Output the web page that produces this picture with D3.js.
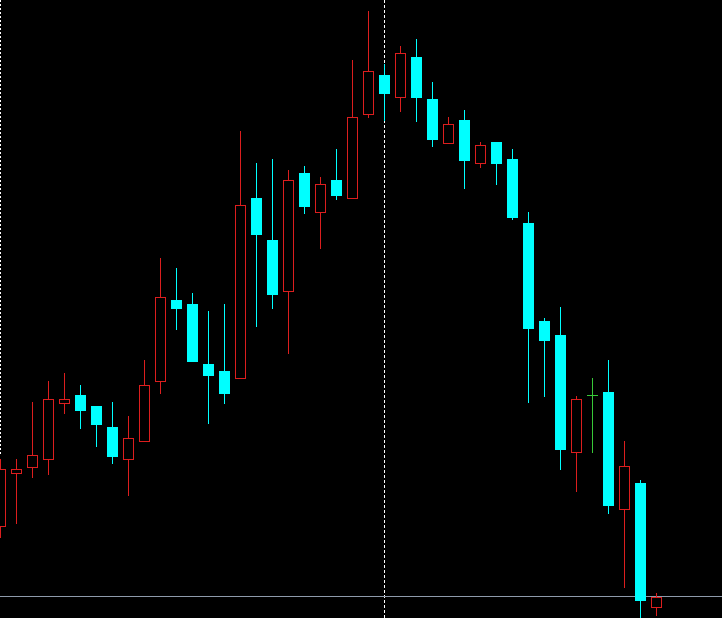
<!DOCTYPE html>
<html>
<head>
<meta charset="utf-8">
<script src="https://cdn.jsdelivr.net/npm/d3@7"></script>
<style>
  html, body { margin: 0; padding: 0; background: #000; overflow: hidden; }
  svg { display: block; }
</style>
</head>
<body>
<svg id="chart" width="722" height="618"></svg>
<script>
// Bar index (categories)
const bars = d3.range(42);
// OHLC series
const openP  = [1.0724,1.0777,1.0783,1.0791,1.0847,1.0855,1.0844,1.0823,1.0791,1.0809,1.0869,1.0950,1.0946,1.0886,1.0879,1.0872,1.1052,1.1010,1.0959,1.1077,1.1038,1.1070,1.1052,1.1136,1.1175,1.1153,1.1193,1.1151,1.1107,1.1130,1.1087,1.1108,1.1091,1.1027,1.0929,1.0915,1.0798,1.0855,1.0858,1.0741,1.0767,1.0643];
const highP  = [1.0791,1.0791,1.0848,1.0869,1.0877,1.0865,1.0844,1.0848,1.0834,1.0890,1.0992,1.0982,1.0957,1.0939,1.0946,1.1119,1.1087,1.1091,1.1080,1.1084,1.1073,1.1101,1.1190,1.1239,1.1186,1.1204,1.1211,1.1168,1.1133,1.1140,1.1108,1.1108,1.1101,1.1038,1.0932,1.0943,1.0854,1.0872,1.0890,1.0809,1.0770,1.0657];
const lowP   = [1.0713,1.0727,1.0773,1.0776,1.0837,1.0822,1.0804,1.0787,1.0755,1.0809,1.0857,1.0921,1.0889,1.0827,1.0847,1.0872,1.0924,1.0942,1.0897,1.1037,1.1002,1.1051,1.1052,1.1133,1.1130,1.1139,1.1129,1.1104,1.1107,1.1062,1.1083,1.1066,1.1031,1.0848,1.0854,1.0781,1.0759,1.0798,1.0737,1.0663,1.0625,1.0635];
const closeP = [1.0781,1.0781,1.0795,1.0851,1.0851,1.0840,1.0826,1.0794,1.0812,1.0865,1.0953,1.0942,1.0889,1.0875,1.0857,1.1045,1.1016,1.0956,1.1070,1.1044,1.1066,1.1055,1.1133,1.1179,1.1157,1.1197,1.1153,1.1111,1.1126,1.1090,1.1105,1.1087,1.1033,1.0922,1.0910,1.0801,1.0851,1.0855,1.0745,1.0784,1.0650,1.0653];
// Current price line and separator bar
const currentPrice = 1.0654;
const separatorBar = 24;
const priceDomain = [1.1250, 1.0632];

const W = 722, H = 618;
const svg = d3.select("#chart");
svg.append("rect").attr("width", W).attr("height", H).attr("fill", "#000");

const x = d3.scalePoint().domain(bars).range([0, 16 * (bars.length - 1)]);
const y = d3.scaleLinear().domain(priceDomain).range([0, H]);
const py = v => Math.round(y(v)) + 0.5;
const px = i => Math.round(x(i)) + 0.5;

const RED = "#dc1e1e", CYAN = "#00ffff", GREEN = "#38c838";

// left dotted separator
svg.append("line")
  .attr("x1", 0.5).attr("x2", 0.5).attr("y1", 0).attr("y2", 455)
  .attr("stroke", "#fff").attr("stroke-width", 1).attr("stroke-dasharray", "2,2");

// vertical dotted line
svg.append("line")
  .attr("x1", px(separatorBar)).attr("x2", px(separatorBar)).attr("y1", 0).attr("y2", H)
  .attr("stroke", "#fff").attr("stroke-width", 1).attr("stroke-dasharray", "3,2");

// current price line
svg.append("line")
  .attr("x1", 0).attr("x2", W).attr("y1", py(currentPrice)).attr("y2", py(currentPrice))
  .attr("stroke", "#8e9aaa").attr("stroke-width", 1);

const data = bars.map(i => ({ i, o: openP[i], h: highP[i], l: lowP[i], c: closeP[i] }));

const g = svg.append("g");
const cand = g.selectAll("g.c").data(data).join("g").attr("class", "c");

cand.append("line")
  .attr("x1", d => px(d.i)).attr("x2", d => px(d.i))
  .attr("y1", d => Math.round(y(d.h))).attr("y2", d => Math.round(y(d.l)) + 1)
  .attr("stroke", d => d.c > d.o ? RED : (d.c < d.o ? CYAN : GREEN))
  .attr("stroke-width", 1);

// bullish hollow bodies
cand.filter(d => d.c > d.o).append("rect")
  .attr("x", d => Math.round(x(d.i)) - 5 + 0.5)
  .attr("width", 10)
  .attr("y", d => py(d.c))
  .attr("height", d => Math.max(1, py(d.o) - py(d.c)))
  .attr("fill", "#000").attr("stroke", RED).attr("stroke-width", 1);

// bearish filled bodies
cand.filter(d => d.c < d.o).append("rect")
  .attr("x", d => Math.round(x(d.i)) - 5)
  .attr("width", 11)
  .attr("y", d => Math.round(y(d.o)))
  .attr("height", d => Math.max(1, Math.round(y(d.c)) - Math.round(y(d.o)) + 1))
  .attr("fill", CYAN);

// doji
cand.filter(d => d.c === d.o).append("line")
  .attr("x1", d => Math.round(x(d.i)) - 5).attr("x2", d => Math.round(x(d.i)) + 6)
  .attr("y1", d => py(d.o)).attr("y2", d => py(d.o))
  .attr("stroke", GREEN).attr("stroke-width", 1);
</script>
</body>
</html>
